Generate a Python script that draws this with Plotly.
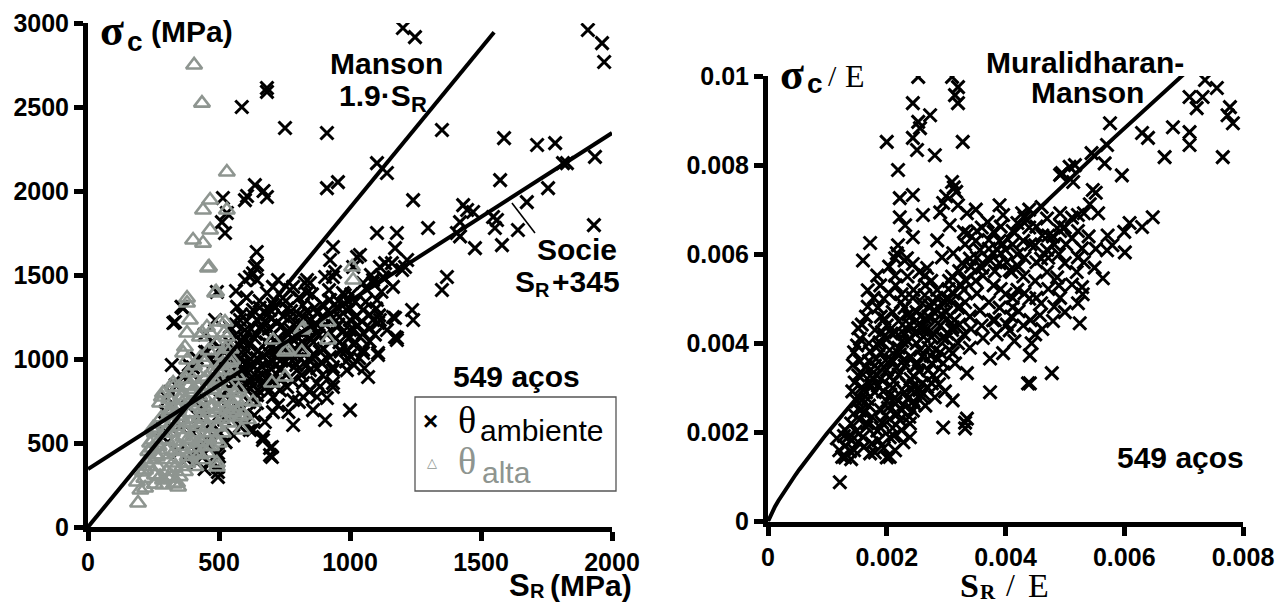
import plotly.graph_objects as go

W, H = 1286, 603

# ---------------- data ----------------
# sigma_c vs S_R (MPa), room-temperature steels
amb_pts = [
    (1202, 2970), (1248, 2916), (1908, 2958), (1962, 2880), (1970, 2768), (1351, 2363), (1588, 2315), (1714, 2274),
    (1783, 2285), (1935, 2203), (1931, 1797), (1573, 2065), (1756, 2017), (1828, 2166), (1675, 1934), (1641, 1768),
    (1561, 1827), (1580, 1678), (1447, 1887), (1432, 1916), (1470, 1875), (1420, 1815), (1408, 1750), (1420, 1730),
    (1477, 1660), (1298, 1780), (1241, 1946), (1103, 1750), (1179, 1750), (1172, 1660), (1141, 2107), (1103, 2166),
    (912, 2345), (912, 2017), (954, 2053), (935, 1667), (1038, 1619), (1370, 1488), (1351, 1411), (1546, 1845),
    (1553, 1780), (1160, 1571), (1114, 1548), (1088, 1452), (1210, 1548), (1237, 1292), (1241, 1232), (1172, 1244),
    (1179, 1125), (1107, 1214), (1050, 1054), (1107, 1036), (1069, 893), (587, 2500), (683, 2613), (683, 2590),
    (752, 2375), (515, 1958), (599, 1946), (607, 1970), (637, 2035), (683, 1964), (670, 2000), (530, 1869),
    (511, 1815), (523, 1750), (644, 1637), (637, 1548), (618, 1488), (630, 1510), (950, 1310), (1000, 1232),
    (1020, 1250), (1164, 1250), (1050, 1155), (1000, 1131), (962, 1054), (935, 952), (935, 857), (920, 1350),
    (980, 1380), (1000, 1300), (1060, 1420), (1020, 1340), (1100, 1300), (1130, 1480), (1080, 1500), (847, 1452),
    (935, 1488), (836, 1470), (943, 1518), (1012, 1548), (706, 1429), (783, 1429), (828, 1452), (905, 1488),
    (920, 1410), (645, 1560), (599, 1470), (492, 1399), (363, 1303), (332, 1220), (485, 1232), (454, 1042),
    (320, 964), (313, 803), (420, 875), (435, 774), (382, 714), (492, 994), (504, 756), (530, 815),
    (580, 696), (618, 577), (668, 536), (695, 470), (702, 417), (706, 684), (783, 607), (905, 637),
    (1000, 696), (1050, 1036), (1107, 1024), (1172, 1131), (1114, 1232), (1076, 1184), (1038, 1131), (988, 1054),
    (924, 1012), (935, 833), (912, 768), (859, 696), (821, 774), (783, 756), (760, 833), (706, 774),
    (645, 738), (504, 559), (496, 440), (496, 298), (466, 470), (836, 1393), (771, 1411), (744, 1363),
    (695, 1292), (645, 1232), (599, 1173), (592, 1101), (542, 1095), (553, 1012), (542, 893), (607, 976),
    (645, 893), (668, 1012), (721, 1054), (695, 1131), (760, 1155), (809, 1214), (874, 1274), (924, 1351),
    (1027, 1607), (1050, 1452), (973, 1393), (874, 1155), (821, 1095), (771, 1036), (733, 934), (798, 934),
    (847, 934), (821, 857), (874, 857), (706, 893), (771, 1250), (721, 1214), (668, 1190), (618, 1095),
    (630, 1292), (683, 1393), (725, 1470), (645, 1470), (569, 1310), (580, 1232), (542, 1190), (530, 1054),
    (580, 815), (607, 815), (649, 815), (695, 815), (733, 815), (874, 774), (935, 934), (988, 934),
    (1000, 1173), (950, 1190), (1050, 1292), (1103, 1351), (1164, 1429), (1126, 1488), (1199, 1530), (1218, 1589),
    (924, 1589), (1088, 1232), (1141, 1173), (1179, 1113), (440, 700), (470, 620), (400, 560), (450, 520),
    (520, 640), (380, 880), (400, 950), (510, 900), (550, 850), (480, 980), (420, 660), (350, 600),
    (540, 760), (580, 600), (460, 380), (500, 420), (430, 460), (326, 1214), (357, 1310), (447, 1042),
    (702, 476), (695, 428), (630, 577), (668, 518), (496, 327), (496, 357), (408, 458), (560, 900),
    (590, 950), (620, 1000), (650, 1050), (680, 1100), (710, 1150), (740, 1200), (770, 1180), (800, 1130),
    (830, 1080), (860, 1030), (890, 980), (620, 880), (650, 930), (690, 980), (720, 1010), (750, 1080),
    (780, 1120), (810, 1000), (840, 1170), (870, 1210), (900, 1250), (580, 1000), (600, 1060), (640, 1150),
    (700, 1240), (760, 1300), (820, 1320), (560, 1140), (590, 880), (630, 840), (670, 870), (700, 940),
    (740, 1000), (780, 990), (820, 1150), (860, 1100), (900, 1060), (880, 1140), (850, 1230), (760, 1040),
    (720, 1100), (660, 960), (610, 920), (575, 960), (560, 1040), (600, 1120), (690, 1180), (790, 1060),
    (740, 880), (780, 870), (840, 1000), (910, 1150), (960, 1100), (1000, 1020), (1030, 1200), (960, 1250),
    (990, 1350), (1060, 1340), (1120, 1400), (1088, 1470), (1134, 1571), (1813, 2166), (1111, 1260),
    (565, 860), (585, 905), (605, 845), (625, 965), (645, 1005), (665, 905), (685, 1045), (705, 985),
    (725, 1125), (745, 1065), (765, 1145), (785, 1205), (805, 1085), (825, 1245), (845, 1125), (865, 1185),
    (885, 1045), (905, 1205), (595, 1025), (615, 1085), (635, 1125), (655, 1185), (675, 1225), (695, 1085),
    (715, 1045), (735, 945), (755, 985), (775, 1025), (795, 965), (815, 905), (835, 965), (855, 1005),
    (875, 945), (895, 905), (575, 1085), (555, 985), (545, 925), (565, 1205), (585, 1265), (605, 1225),
    (625, 1265), (655, 1305), (685, 1265), (715, 1305), (745, 1255), (775, 1285), (805, 1265), (835, 1285),
    (865, 1305), (895, 1325), (915, 1285), (935, 1245), (955, 1205), (975, 1165), (995, 1125), (1015, 1085),
    (945, 1125), (965, 1045), (985, 985), (1015, 965), (1035, 1005), (1055, 945), (1075, 1105), (1095, 1145),
    (1015, 1175), (1045, 1225), (1075, 1265), (985, 1295), (955, 1345), (1005, 1385), (855, 1385), (805, 1365),
    (755, 1345), (705, 1325), (655, 1345), (605, 1365), (565, 1405), (705, 865), (675, 825), (645, 785),
    (615, 745), (585, 705), (555, 665), (535, 725), (515, 865), (505, 1065), (475, 1105), (445, 1145),
    (415, 1005), (385, 965), (355, 905), (335, 845), (305, 765), (295, 685), (285, 585), (305, 505),
    (345, 445), (375, 405), (415, 385), (445, 345), (525, 505), (555, 545), (595, 625), (635, 665),
    (675, 625), (725, 725), (765, 685), (805, 745), (845, 805), (885, 835),
]

# sigma_c vs S_R (MPa), high-temperature tests
alta_pts = [
    (405, 2750), (435, 2523), (530, 2113), (466, 1946), (439, 1887), (530, 1887), (466, 1768), (401, 1708),
    (439, 1690), (462, 1548), (489, 1399), (378, 1363), (378, 1333), (191, 143), (218, 232), (187, 268),
    (218, 339), (286, 250), (344, 238), (328, 256), (248, 518), (248, 589), (282, 774), (325, 833),
    (363, 1036), (378, 1155), (427, 1131), (454, 1190), (504, 1220), (519, 1155), (542, 982), (580, 696),
    (592, 667), (587, 577), (492, 381), (454, 440), (630, 744), (706, 1113), (752, 1042), (816, 1042),
    (822, 1184), (752, 893), (702, 857), (458, 1542), (485, 1393), (389, 1232), (435, 1155), (466, 1155),
    (523, 1220), (530, 1131), (370, 1071), (378, 994), (382, 917), (286, 797), (325, 857), (351, 756),
    (454, 893), (492, 934), (473, 815), (515, 976), (550, 994), (580, 655), (553, 714), (530, 655),
    (496, 595), (466, 714), (427, 655), (389, 619), (351, 637), (313, 696), (275, 738), (248, 577),
    (237, 500), (263, 417), (301, 458), (325, 381), (286, 280), (340, 262), (210, 327), (363, 536),
    (416, 500), (454, 536), (492, 357), (760, 1054), (816, 1173), (916, 1220), (916, 1113), (1008, 1548),
    (1012, 1470), (542, 976), (260, 430), (270, 480), (300, 520), (320, 560), (340, 600), (360, 640),
    (300, 400), (330, 450), (350, 480), (380, 520), (400, 560), (420, 600), (440, 640), (460, 680),
    (480, 720), (500, 760), (520, 800), (540, 840), (380, 420), (410, 470), (430, 510), (470, 560),
    (490, 600), (510, 640), (530, 700), (550, 740), (300, 330), (320, 300), (350, 300), (370, 330),
    (290, 620), (310, 680), (340, 720), (370, 760), (395, 800), (420, 840), (445, 880), (470, 920),
    (500, 880), (520, 930), (480, 820), (450, 760), (420, 720), (390, 680), (355, 660), (265, 360),
    (275, 300), (240, 400), (230, 450), (255, 560), (280, 650), (310, 760), (345, 830), (375, 880),
    (405, 960), (430, 1010), (460, 1050), (490, 1090), (515, 1020), (545, 1060), (570, 900), (560, 800),
    (500, 500), (470, 480), (440, 400), (410, 360), (380, 380), (235, 360), (255, 310), (280, 430),
    (305, 590), (335, 510), (365, 460), (395, 520), (415, 620), (435, 700), (455, 590), (475, 650),
    (495, 700), (515, 560), (535, 620), (555, 680), (565, 760), (325, 620), (345, 700), (365, 580),
    (385, 740), (405, 820), (425, 780), (455, 840), (485, 860), (505, 960), (525, 1060), (445, 980),
    (415, 920), (385, 840), (355, 780), (325, 700), (295, 560), (265, 500), (245, 470), (225, 380),
    (215, 290), (200, 220), (255, 255), (305, 290), (330, 350), (360, 360), (395, 440), (425, 430),
    (455, 480), (485, 520), (515, 720), (545, 900), (575, 820), (600, 750), (610, 640),
]

# sigma_c/E vs S_R/E, values in units of 1e-3
norm_pts_milli = [
    (7.36, 9.91), (7.56, 9.73), (7.10, 9.53), (7.32, 9.53), (7.22, 9.28), (7.78, 9.30), (7.74, 9.12), (7.83, 8.94),
    (6.82, 8.85), (7.10, 8.74), (7.10, 8.45), (6.68, 8.18), (7.66, 8.18), (6.30, 8.72), (6.40, 8.61), (5.76, 8.94),
    (5.71, 8.45), (5.67, 8.04), (5.96, 7.77), (5.45, 8.27), (5.17, 8.00), (4.95, 7.82), (5.14, 7.62), (5.47, 7.44),
    (5.52, 7.38), (5.56, 6.92), (5.22, 6.88), (6.09, 6.70), (6.30, 6.61), (6.48, 6.83), (4.92, 6.65), (5.12, 6.36),
    (5.29, 6.13), (5.22, 5.93), (5.71, 6.09), (6.01, 6.04), (5.64, 5.46), (5.29, 5.26), (4.87, 5.48), (4.61, 7.06),
    (4.28, 6.92), (3.96, 6.88), (3.70, 6.72), (5.08, 7.96), (4.92, 7.78), (2.53, 9.98), (3.10, 9.98), (3.20, 9.75),
    (3.15, 9.57), (3.20, 9.39), (2.44, 9.39), (2.73, 9.12), (2.53, 8.97), (2.56, 8.83), (2.44, 8.61), (2.51, 8.34),
    (2.81, 8.22), (2.00, 8.52), (3.28, 8.52), (2.19, 7.89), (3.10, 7.62), (3.13, 7.50), (3.17, 7.40), (2.22, 7.26),
    (2.44, 7.33), (2.95, 7.15), (2.90, 6.94), (3.35, 6.92), (2.22, 6.83), (2.61, 6.88), (2.31, 6.65), (3.06, 6.65),
    (3.37, 6.47), (2.44, 6.38), (1.72, 6.25), (1.60, 5.86), (2.17, 6.02), (2.30, 5.86), (2.85, 6.31), (1.21, 0.88),
    (1.30, 1.44), (1.16, 1.87), (1.41, 1.82), (1.72, 1.53), (2.00, 1.44), (2.14, 1.60), (2.39, 1.89), (2.95, 2.11),
    (3.32, 2.09), (3.35, 2.31), (2.81, 2.79), (3.74, 2.90), (3.35, 3.33), (3.74, 3.66), (3.96, 3.78), (4.41, 3.10),
    (4.41, 3.73), (4.44, 4.00), (1.68, 5.19), (1.89, 5.30), (1.52, 4.34), (1.50, 3.95), (1.43, 3.51), (1.46, 3.12),
    (2.19, 6.20), (2.14, 5.91), (2.34, 5.91), (2.93, 5.93), (2.68, 5.69), (3.27, 5.80), (3.57, 6.09), (3.74, 5.86),
    (4.07, 5.64), (4.12, 4.81), (3.79, 4.52), (4.07, 4.29), (3.57, 4.74), (3.11, 4.36), (3.11, 3.78), (2.95, 3.55),
    (2.76, 3.10), (2.61, 2.88), (2.44, 2.49), (2.39, 2.20), (2.05, 1.89), (1.84, 2.04), (1.67, 2.20), (1.55, 2.49),
    (1.58, 3.01), (5.22, 4.90), (5.25, 4.45), (4.58, 4.63), (4.78, 3.33), (4.38, 3.10), (3.32, 2.22), (3.11, 2.72),
    (3.85, 4.20), (4.15, 4.05), (3.30, 6.50), (3.50, 6.30), (3.60, 6.60), (3.80, 6.50), (3.90, 6.30), (4.00, 6.10),
    (4.20, 6.00), (4.30, 6.30), (4.40, 6.60), (4.50, 6.20), (4.60, 5.90), (4.70, 6.10), (4.80, 6.40), (4.90, 6.00),
    (3.40, 5.90), (3.60, 5.70), (3.90, 5.80), (4.10, 5.60), (4.30, 5.50), (4.50, 5.40), (4.70, 5.60), (4.90, 5.30),
    (5.00, 5.80), (5.20, 5.60), (4.20, 5.20), (4.40, 5.00), (4.60, 4.90), (4.00, 5.10), (3.80, 5.30), (3.50, 5.40),
    (3.30, 5.20), (3.10, 5.50), (3.00, 5.00), (3.20, 4.80), (3.40, 4.60), (3.60, 4.40), (3.90, 4.80), (4.10, 4.60),
    (4.30, 4.40), (4.50, 4.20), (4.80, 4.50), (5.00, 4.70), (5.30, 5.10), (5.50, 5.70), (5.80, 6.20), (6.00, 6.50),
    (5.40, 6.40), (5.00, 6.60), (4.70, 6.80), (4.40, 7.00), (4.20, 6.70), (3.90, 7.10), (3.50, 7.00), (3.20, 7.10),
    (3.00, 7.30), (1.70, 2.60), (1.80, 2.90), (1.90, 3.20), (2.00, 2.70), (2.10, 3.00), (2.20, 3.30), (2.30, 2.90),
    (2.40, 3.20), (2.50, 3.50), (2.60, 3.10), (2.70, 3.40), (1.80, 3.50), (1.90, 3.80), (2.00, 4.10), (2.10, 3.60),
    (2.20, 3.90), (2.30, 4.20), (2.40, 3.70), (2.50, 4.00), (2.60, 4.30), (2.70, 3.90), (2.80, 4.20), (1.70, 4.00),
    (1.80, 4.30), (1.90, 4.60), (2.00, 4.40), (2.10, 4.70), (2.20, 4.50), (2.30, 4.80), (2.40, 4.40), (2.50, 4.70),
    (2.60, 4.90), (2.70, 4.60), (2.80, 4.90), (2.90, 4.40), (3.00, 4.70), (2.90, 3.80), (3.00, 4.10), (3.10, 4.30),
    (3.20, 4.00), (3.30, 4.20), (3.40, 3.90), (1.60, 3.30), (1.70, 3.60), (2.00, 3.40), (2.30, 3.50), (2.60, 3.70),
    (1.75, 2.35), (2.05, 2.30), (2.25, 2.50), (2.45, 2.70), (2.65, 2.60), (1.90, 2.50), (2.15, 2.65), (2.35, 2.75),
    (1.85, 3.05), (2.05, 3.25), (2.45, 3.05), (2.55, 2.95), (2.15, 4.25), (2.35, 4.05), (1.95, 4.15), (2.05, 3.85),
    (2.55, 4.45), (2.75, 4.15), (2.85, 3.65), (2.95, 3.35), (3.05, 3.85), (3.15, 3.55), (2.25, 5.10), (2.45, 5.20),
    (2.65, 5.30), (2.85, 5.20), (3.05, 5.40), (2.35, 5.50), (2.55, 5.60), (2.75, 5.40), (1.95, 5.00), (2.15, 5.30),
    (1.85, 4.80), (1.65, 4.60), (1.55, 4.10), (1.45, 3.80), (1.55, 3.60), (1.65, 2.90), (1.50, 2.70), (1.40, 2.20),
    (1.35, 1.90), (1.30, 1.70), (1.45, 1.60), (1.60, 1.90), (1.75, 1.75), (1.90, 2.10), (2.10, 2.10), (2.25, 2.05),
    (1.55, 2.30), (1.30, 2.05), (1.20, 1.60), (1.25, 1.45), (1.40, 1.40), (1.80, 1.55), (1.95, 1.65), (2.05, 1.45),
    (1.62, 2.45), (1.68, 2.75), (1.74, 3.05), (1.78, 3.35), (1.82, 3.65), (1.86, 3.95), (1.92, 4.25), (1.96, 4.55),
    (2.02, 2.55), (2.06, 2.85), (2.12, 3.15), (2.16, 3.45), (2.22, 3.75), (2.26, 4.05), (2.32, 4.35), (2.36, 4.65),
    (2.42, 2.95), (2.46, 3.25), (2.52, 3.55), (2.56, 3.85), (2.62, 4.15), (2.66, 4.55), (2.72, 4.85), (2.76, 3.55),
    (2.82, 3.85), (2.86, 4.45), (2.92, 4.65), (2.96, 4.95), (3.02, 4.55), (3.08, 4.95), (1.98, 2.38), (2.18, 2.42),
    (2.28, 2.62), (2.38, 2.35), (2.48, 2.62), (2.58, 2.82), (2.68, 3.02), (2.78, 3.28), (2.88, 3.08), (2.98, 2.92),
    (1.72, 3.82), (1.88, 4.02), (1.98, 3.62), (2.08, 4.22), (2.28, 3.62), (2.38, 4.58), (2.48, 4.22), (2.58, 4.62),
    (2.68, 4.32), (2.78, 4.72), (1.64, 3.46), (1.76, 3.22), (1.94, 2.92), (2.14, 2.78), (2.34, 3.08), (2.54, 3.38),
    (2.74, 3.72), (2.94, 4.12), (3.14, 4.52), (3.24, 4.82), (2.04, 5.12), (2.24, 4.92), (2.44, 5.02), (2.64, 5.08),
    (2.84, 5.02), (3.04, 5.22), (3.24, 5.32), (2.14, 5.52), (2.44, 5.78), (2.64, 5.52), (1.58, 4.42), (1.68, 4.82),
    (1.78, 5.02), (1.84, 5.52), (2.04, 5.72), (1.92, 2.22), (2.22, 2.28), (1.66, 2.12), (1.48, 2.02), (1.52, 1.78),
    (1.38, 1.58), (1.62, 1.68), (1.86, 1.82), (2.12, 1.92), (2.28, 1.78), (1.28, 1.92), (1.44, 2.42), (1.58, 2.72),
    (1.42, 2.92), (1.52, 3.28), (3.12, 5.12), (3.22, 5.62), (3.32, 5.42), (3.42, 5.72), (3.52, 5.92), (3.62, 5.52),
    (3.72, 6.12), (3.82, 5.62), (3.92, 6.02), (4.02, 5.82), (4.12, 6.22), (4.22, 5.72), (4.32, 5.92), (4.42, 6.22),
    (4.52, 5.82), (4.62, 6.42), (4.72, 5.92), (4.82, 6.22), (4.92, 6.52), (5.02, 6.22), (5.12, 6.82), (5.22, 6.52),
    (5.32, 6.92), (5.42, 7.12), (3.32, 4.92), (3.52, 5.12), (3.72, 4.92), (3.92, 5.22), (4.12, 5.02), (4.32, 5.12),
    (4.52, 5.02), (4.72, 5.22), (4.92, 5.02), (5.12, 5.32), (3.42, 4.32), (3.62, 4.12), (3.82, 4.52), (4.02, 4.42),
    (4.22, 4.72), (4.42, 4.52), (4.62, 4.32), (4.82, 4.82), (3.22, 4.42), (3.02, 4.22), (3.12, 6.02), (3.32, 6.22),
    (3.52, 6.52), (3.72, 6.32), (3.92, 6.62), (4.12, 6.52), (4.32, 6.82), (4.52, 6.62), (4.72, 6.42), (4.92, 6.92),
    (5.32, 5.82), (5.52, 6.12), (5.72, 6.42),
]
MILLI = 1e-3

# correlation lines
manson_k = 1.9
manson_sr = [0, 1550]
socie_offset = 345
socie_sr = [0, 2000]
mm_coef, mm_exp = 0.623, 0.832
mm_x_end = 0.007
mm_n = 120

left_xticks = [0, 500, 1000, 1500, 2000]
left_yticks = [0, 500, 1000, 1500, 2000, 2500, 3000]
right_xticks = [0, 0.002, 0.004, 0.006, 0.008]
right_xlabels = ["0", "0.002", "0.004", "0.006", "0.008"]
right_yticks = [0, 0.002, 0.004, 0.006, 0.008, 0.01]
right_ylabels = ["0", "0.002", "0.004", "0.006", "0.008", "0.01"]

GRAY = "#8e9590"
SANS = "Liberation Sans"
SERIF = "Liberation Serif"


def pxx(x):
    return x / W


def pxy(y):
    return 1 - y / H


fig = go.Figure()

amb_x = [p[0] for p in amb_pts]
amb_y = [p[1] for p in amb_pts]
alta_x = [p[0] for p in alta_pts]
alta_y = [p[1] for p in alta_pts]
norm_x = [p[0] * MILLI for p in norm_pts_milli]
norm_y = [p[1] * MILLI for p in norm_pts_milli]

fig.add_trace(go.Scatter(x=amb_x, y=amb_y, mode="markers", xaxis="x", yaxis="y",
                         marker=dict(symbol="x-thin", size=13, line=dict(width=3, color="black")),
                         showlegend=False, hoverinfo="skip"))
fig.add_trace(go.Scatter(x=alta_x, y=alta_y, mode="markers", xaxis="x", yaxis="y",
                         marker=dict(symbol="triangle-up-open", size=14, color=GRAY, line=dict(width=2.6)),
                         showlegend=False, hoverinfo="skip"))
fig.add_trace(go.Scatter(x=manson_sr, y=[manson_k * v for v in manson_sr], mode="lines",
                         xaxis="x", yaxis="y", line=dict(color="black", width=4),
                         showlegend=False, hoverinfo="skip"))
fig.add_trace(go.Scatter(x=socie_sr, y=[v + socie_offset for v in socie_sr], mode="lines",
                         xaxis="x", yaxis="y", line=dict(color="black", width=4),
                         showlegend=False, hoverinfo="skip"))

fig.add_trace(go.Scatter(x=norm_x, y=norm_y, mode="markers", xaxis="x2", yaxis="y2",
                         marker=dict(symbol="x-thin", size=13, line=dict(width=3, color="black")),
                         showlegend=False, hoverinfo="skip"))
mm_x = [mm_x_end * i / mm_n for i in range(mm_n + 1)]
mm_y = [mm_coef * v ** mm_exp for v in mm_x]
fig.add_trace(go.Scatter(x=mm_x, y=mm_y, mode="lines", xaxis="x2", yaxis="y2",
                         line=dict(color="black", width=4), showlegend=False, hoverinfo="skip"))

axis_style = dict(showline=True, linecolor="black", linewidth=5, ticks="outside", ticklen=9,
                  tickwidth=5, tickcolor="black", showgrid=False, zeroline=False,
                  tickfont=dict(family=SANS, size=25, color="black", weight="bold"),
                  automargin=False, fixedrange=True)

fig.update_layout(
    width=W, height=H, margin=dict(l=0, r=0, t=0, b=0),
    paper_bgcolor="white", plot_bgcolor="white", showlegend=False,
    xaxis=dict(domain=[pxx(88), pxx(612)], range=[0, 2000], anchor="y",
               tickvals=left_xticks, ticktext=[str(v) for v in left_xticks], **axis_style),
    yaxis=dict(domain=[pxy(527), pxy(23)], range=[0, 3000], anchor="x",
               tickvals=left_yticks, ticktext=[str(v) for v in left_yticks], **axis_style),
    xaxis2=dict(domain=[pxx(768), pxx(1243)], range=[0, 0.008], anchor="y2",
                tickvals=right_xticks, ticktext=right_xlabels, **axis_style),
    yaxis2=dict(domain=[pxy(521.5), pxy(76)], range=[0, 0.01], anchor="x2",
                tickvals=right_yticks, ticktext=right_ylabels, **axis_style),
)

# legend frame and Socie leader line
fig.add_shape(type="rect", xref="paper", yref="paper", x0=pxx(415), x1=pxx(616),
              y0=pxy(491), y1=pxy(397), line=dict(color="#555555", width=1.3))
fig.add_shape(type="line", xref="x", yref="y", x0=1618, y0=1928, x1=1706, y1=1750,
              line=dict(color="black", width=1.6))


def label(x, y, text, size, family=SANS, bold=True, color="black", xanchor="center"):
    fig.add_annotation(x=pxx(x), y=pxy(y), xref="paper", yref="paper", text=text,
                       showarrow=False, xanchor=xanchor, yanchor="middle", borderpad=0,
                       font=dict(family=family, size=size, color=color,
                                 weight="bold" if bold else "normal"))


# left panel texts
label(112, 31, "σ", 44, family=SERIF)
label(135, 41, "c", 28)
label(192, 32, "(MPa)", 30)
label(386, 64, "Manson", 30)
label(412, 95, "1.9·S", 30, xanchor="right")
label(410, 104, "R", 22, xanchor="left")
label(577, 249, "Socie", 30)
label(536, 281, "S", 30, xanchor="right")
label(534, 290, "R", 20, xanchor="left")
label(551, 281, "+345", 30, xanchor="left")
label(516, 376, "549 aços", 30)
label(430, 421, "×", 26)
label(467, 420, "θ", 38, family=SERIF, bold=False)
label(541, 430, "ambiente", 30, bold=False)
label(432, 462, "△", 13, color=GRAY, family="DejaVu Sans")
label(467, 461, "θ", 38, family=SERIF, bold=False, color=GRAY)
label(506, 472, "alta", 30, bold=False, color=GRAY)
label(531, 585, "S", 31, xanchor="right")
label(529, 591, "R", 20, xanchor="left")
label(549, 585, "(MPa)", 30, xanchor="left")

# right panel texts
label(792, 74, "σ", 44, family=SERIF)
label(815, 83, "c", 28)
label(832, 76, "/", 30, family=SERIF, bold=False)
label(855, 76, "E", 32, family=SERIF, bold=False)
label(1085, 63, "Muralidharan-", 30)
label(1087, 93, "Manson", 30)
label(1180, 457, "549 aços", 30)
label(980, 585, "S", 34, family=SERIF, xanchor="right")
label(979, 592, "R", 21, family=SERIF, xanchor="left")
label(1010, 585, "/", 32, family=SERIF, bold=False)
label(1038, 585, "E", 34, family=SERIF, bold=False)

fig.write_html("out.html")
